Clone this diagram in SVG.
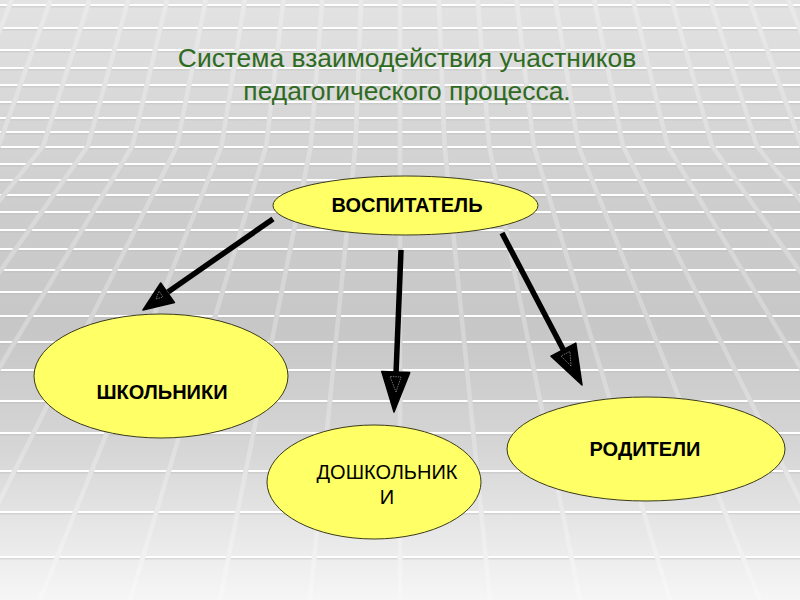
<svg xmlns="http://www.w3.org/2000/svg" width="800" height="600" viewBox="0 0 800 600">
<defs>
<linearGradient id="bg" x1="0" y1="0" x2="0" y2="1">
<stop offset="0" stop-color="#e3e3e3"/>
<stop offset="0.35" stop-color="#cdcdcd"/>
<stop offset="0.55" stop-color="#c7c7c7"/>
<stop offset="0.75" stop-color="#d6d6d6"/>
<stop offset="1" stop-color="#f6f6f6"/>
</linearGradient>
<mask id="gap">
<rect x="0" y="0" width="800" height="600" fill="#fff"/>
<use href="#diag" stroke="#000" stroke-width="5" fill="none"/>
</mask>
<path id="diag" d="M 400,0 L 400,600
M 438.8,0 L 444.6,146 L 490,600 M 361.2,0 L 355.4,146 L 310,600
M 477.7,0 L 489.2,146 L 580,600 M 322.3,0 L 310.8,146 L 220,600
M 516.5,0 L 533.8,146 L 670,600 M 283.5,0 L 266.2,146 L 130,600
M 555.3,0 L 578.4,146 L 760,600 M 244.7,0 L 221.6,146 L 40,600
M 594.2,0 L 623,146 L 850,600 M 205.8,0 L 177,146 L -50,600
M 633,0 L 667.6,146 L 940,600 M 167,0 L 132.4,146 L -140,600
M 671.8,0 L 712.2,146 L 1030,600 M 128.2,0 L 87.8,146 L -230,600
M 710.6,0 L 756.8,146 L 1120,600 M 89.4,0 L 43.2,146 L -320,600
M 749.5,0 L 801.4,146 L 1210,600 M 50.5,0 L -1.4,146 L -410,600
M 788.3,0 L 846,146 M 11.7,0 L -46,146"/>
<style>
.row{stroke:#ffffff;stroke-width:2.2;fill:none}
.rowsh{stroke:#b9b9b9;stroke-width:1;fill:none;opacity:0.6}
.node{fill:#ffff66;stroke:#3a3a1a;stroke-width:1}
.lbl{font-family:"Liberation Sans",Arial,sans-serif;fill:#000;text-anchor:middle}
.b{font-weight:bold}
.title{font-family:"Liberation Sans",Arial,sans-serif;fill:#2f6b1f;font-size:26.4px;text-anchor:middle}
.shaft{stroke:#000;stroke-width:5.5;fill:none}
.head{fill:#000;stroke:#000;stroke-width:1.5;stroke-linejoin:round}
.inner{fill:none;stroke:#8a8a8a;stroke-width:0.8;stroke-dasharray:1.5 1}
</style>
</defs>
<g id="background">
<rect x="0" y="0" width="800" height="600" fill="url(#bg)"/>
<g mask="url(#gap)">
<path class="rowsh" d="M0,6.8H800M0,29.8H800M0,51.8H800M0,69.8H800M0,86.8H800M0,103.8H800M0,119.8H800M0,133.8H800M0,148.8H800M0,165.8H800M0,181.8H800M0,196.8H800M0,213.8H800M0,231.8H800M0,250.8H800M0,271.8H800M0,293.8H800M0,317.8H800M0,343.8H800M0,371.8H800M0,402.8H800M0,434.8H800M0,472.8H800M0,513.8H800M0,558.8H800"/>
<path class="row" d="M0,5H800M0,28H800M0,50H800M0,68H800M0,85H800M0,102H800M0,118H800M0,132H800M0,147H800M0,164H800M0,180H800M0,195H800M0,212H800M0,230H800M0,249H800M0,270H800M0,292H800M0,316H800M0,342H800M0,370H800M0,401H800M0,433H800M0,471H800M0,512H800M0,557H800"/>
</g>
<use href="#diag" stroke="#ffffff" stroke-opacity="0.25" stroke-width="4.5" fill="none"/>
</g>
<g id="title">
<text class="title" x="407" y="67">Система взаимодействия участников</text>
<text class="title" x="407" y="100">педагогического процесса.</text>
</g>
<g id="connectors">
<line class="shaft" x1="273" y1="219" x2="168" y2="292"/>
<polygon class="head" points="143,310 174.5,302.6 160.7,283"/>
<polygon class="inner" points="156,299 163,297 159,291"/>
<line class="shaft" x1="401" y1="250" x2="396" y2="374"/>
<polygon class="head" points="394,412 409.7,372.6 381.7,371.4"/>
<polygon class="inner" points="396,392 401,377 390,376.5"/>
<line class="shaft" x1="502" y1="233" x2="564" y2="351"/>
<polygon class="head" points="582,385 551,356.1 575.8,343.1"/>
<polygon class="inner" points="571,366 561,356 570,351.5"/>
</g>
<g id="node-vospitatel">
<ellipse class="node" cx="405.5" cy="205.5" rx="132.5" ry="29.5"/>
<text class="lbl b" x="407" y="212" font-size="20">ВОСПИТАТЕЛЬ</text>
</g>
<g id="node-shkolniki">
<ellipse class="node" cx="161" cy="376" rx="127" ry="62"/>
<text class="lbl b" x="162" y="399" font-size="20">ШКОЛЬНИКИ</text>
</g>
<g id="node-doshkolniki">
<ellipse class="node" cx="374" cy="482" rx="107" ry="57"/>
<text class="lbl" x="387" y="479" font-size="20">ДОШКОЛЬНИК</text>
<text class="lbl" x="387" y="504" font-size="20">И</text>
</g>
<g id="node-roditeli">
<ellipse class="node" cx="646" cy="449" rx="139" ry="52" stroke="#000" stroke-width="2.5"/>
<text class="lbl b" x="645" y="456" font-size="20">РОДИТЕЛИ</text>
</g>
</svg>
